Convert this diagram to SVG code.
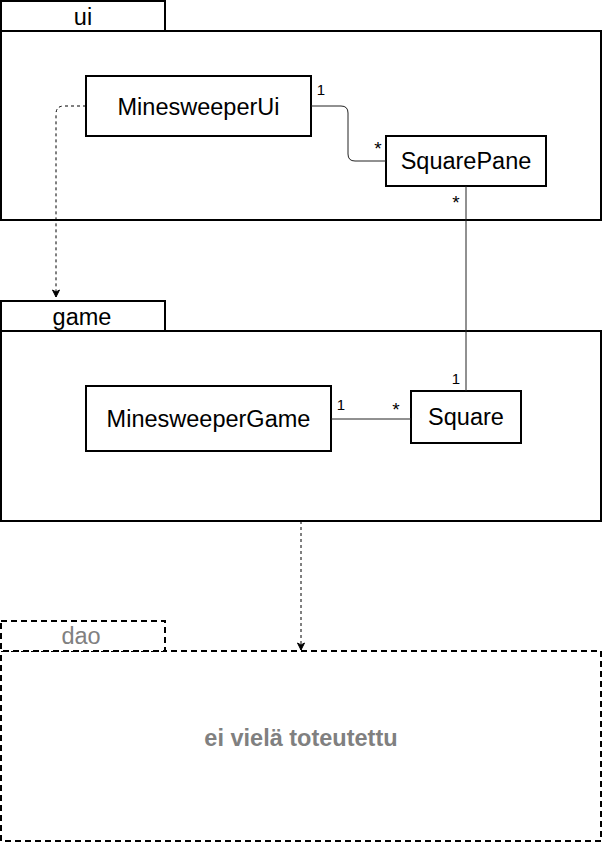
<svg xmlns="http://www.w3.org/2000/svg" width="603" height="843" viewBox="0 0 603 843">
<style>
.box{fill:#fff;stroke:#000;stroke-width:2}
.dbox{fill:#fff;stroke:#000;stroke-width:2;stroke-dasharray:6 4}
.t{font-family:"Liberation Sans",Arial,sans-serif;font-size:23.5px;fill:#000;text-anchor:middle}
.g{fill:#808080}
.lbl{font-family:"Liberation Sans",Arial,sans-serif;font-size:15px;fill:#000;text-anchor:middle}
.star{font-family:"Liberation Sans",Arial,sans-serif;font-size:19px;fill:#000;text-anchor:middle}
.conn{fill:none;stroke:#222;stroke-width:1}
.dep{fill:none;stroke:#000;stroke-width:1;stroke-dasharray:3 3}
</style>
<defs>
<marker id="arr" markerWidth="10" markerHeight="10" refX="8" refY="5" orient="auto" markerUnits="userSpaceOnUse">
<path d="M1,1.5 L8,5 L1,8.5 L3,5 Z" fill="#000" stroke="#000" stroke-width="1"/>
</marker>
</defs>
<g id="pkg-ui">
<rect class="box" x="1" y="31" width="600" height="189"/>
<rect class="box" x="1" y="1" width="164" height="30"/>
<text class="t" x="83" y="25">ui</text>
</g>
<g id="pkg-game">
<rect class="box" x="1" y="331" width="600" height="190"/>
<rect class="box" x="1" y="301" width="164" height="30"/>
<text class="t" x="82" y="325">game</text>
</g>
<g id="pkg-dao">
<rect class="dbox" x="1" y="651" width="600" height="190"/>
<rect class="dbox" x="1" y="621" width="164" height="30"/>
<text class="t g" x="81" y="644">dao</text>
<text class="t g" x="301" y="746" font-weight="bold" font-size="23">ei vielä toteutettu</text>
</g>
<g id="MinesweeperUi">
<rect class="box" x="86" y="76" width="225" height="60"/>
<text class="t" x="198.5" y="115">MinesweeperUi</text>
</g>
<g id="SquarePane">
<rect class="box" x="386" y="136" width="160" height="50"/>
<text class="t" x="466" y="169">SquarePane</text>
</g>
<g id="MinesweeperGame">
<rect class="box" x="86" y="386" width="245" height="65"/>
<text class="t" x="208.5" y="427">MinesweeperGame</text>
</g>
<g id="Square">
<rect class="box" x="411" y="391" width="110" height="52"/>
<text class="t" x="466" y="425">Square</text>
</g>
<g id="connectors">
<path class="conn" d="M311,106 H341 Q348,106 348,113 V154 Q348,161 355,161 H386"/>
<text class="lbl" x="321" y="95">1</text>
<text class="star" x="378" y="155">*</text>
<path class="conn" d="M466,186 V391"/>
<text class="star" x="456" y="209">*</text>
<text class="lbl" x="456" y="384">1</text>
<path class="conn" d="M331,419 H411"/>
<text class="lbl" x="341" y="410">1</text>
<text class="star" x="396" y="416">*</text>
<path class="dep" d="M86,106 H64 Q56,106 56,114 V297" marker-end="url(#arr)"/>
<path class="dep" d="M301,521 V650" marker-end="url(#arr)"/>
</g>
</svg>
